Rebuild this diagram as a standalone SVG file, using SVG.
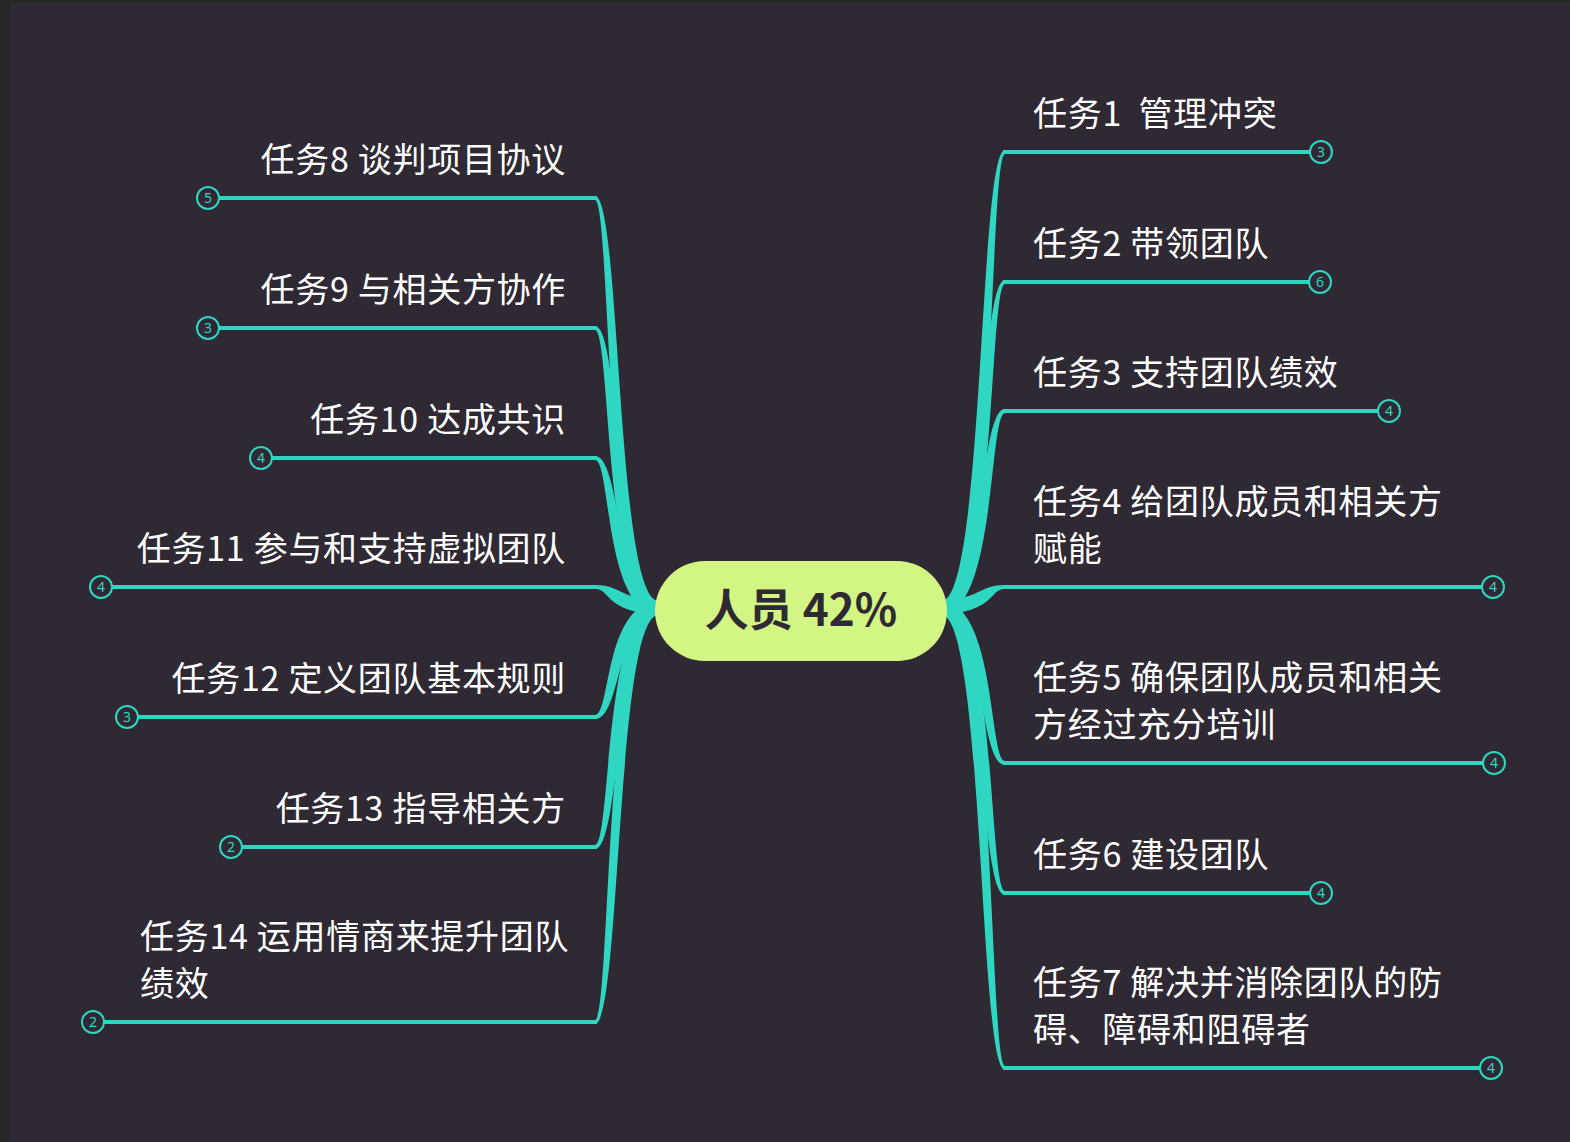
<svg xmlns="http://www.w3.org/2000/svg" width="1570" height="1142" viewBox="0 0 1570 1142">
<style>
.bg{fill:#2f2934}
.br{fill:#2fd6c2}
.hl{stroke:#2fd6c2;stroke-width:4;fill:none}
.lbl{font-family:"Noto Sans CJK SC","Noto Sans",sans-serif;font-size:34px;letter-spacing:0.7px;fill:#ffffff}
.lft{text-anchor:end}
.bd circle{fill:#2f2934;stroke:#2fd6c2;stroke-width:2}
.bd text{font-family:"Noto Sans","Liberation Sans",sans-serif;font-size:14px;fill:#2fd6c2;text-anchor:middle}
.root{fill:#d3f583}
.rootT{font-family:"Noto Sans CJK SC","Noto Sans",sans-serif;font-size:44px;font-weight:700;fill:#2f2934;text-anchor:middle}
</style>
<rect x="0" y="0" width="1570" height="1142" fill="#272727"/>
<rect class="bg" x="10" y="3" width="1560" height="1139"/>
<g id="connectors">
<path class="br" d="M 942 601 C 984 597 979 150 1005 150 L 1005 154 C 989 154 996 611 942 615 Z"/>
<path class="br" d="M 942 601 C 984 597 979 280 1005 280 L 1005 284 C 989 284 996 611 942 615 Z"/>
<path class="br" d="M 942 601 C 984 597 979 409 1005 409 L 1005 413 C 989 413 996 611 942 615 Z"/>
<path class="br" d="M 942 601 C 984 597 979 585 1005 585 L 1005 589 C 989 589 996 611 942 615 Z"/>
<path class="br" d="M 942 615 C 984 619 979 765 1005 765 L 1005 761 C 989 761 996 605 942 601 Z"/>
<path class="br" d="M 942 615 C 984 619 979 895 1005 895 L 1005 891 C 989 891 996 605 942 601 Z"/>
<path class="br" d="M 942 615 C 984 619 979 1070 1005 1070 L 1005 1066 C 989 1066 996 605 942 601 Z"/>
<path class="br" d="M 658 601 C 616 597 621 196 595 196 L 595 200 C 611 200 604 611 658 615 Z"/>
<path class="br" d="M 658 601 C 616 597 621 326 595 326 L 595 330 C 611 330 604 611 658 615 Z"/>
<path class="br" d="M 658 601 C 616 597 621 456 595 456 L 595 460 C 611 460 604 611 658 615 Z"/>
<path class="br" d="M 658 601 C 616 597 621 585 595 585 L 595 589 C 611 589 604 611 658 615 Z"/>
<path class="br" d="M 658 615 C 616 619 621 719 595 719 L 595 715 C 611 715 604 605 658 601 Z"/>
<path class="br" d="M 658 615 C 616 619 621 849 595 849 L 595 845 C 611 845 604 605 658 601 Z"/>
<path class="br" d="M 658 615 C 616 619 621 1024 595 1024 L 595 1020 C 611 1020 604 605 658 601 Z"/>
<line class="hl" x1="1003" y1="152" x2="1310" y2="152"/>
<line class="hl" x1="1003" y1="282" x2="1309" y2="282"/>
<line class="hl" x1="1003" y1="411" x2="1378" y2="411"/>
<line class="hl" x1="1003" y1="587" x2="1482" y2="587"/>
<line class="hl" x1="1003" y1="763" x2="1483" y2="763"/>
<line class="hl" x1="1003" y1="893" x2="1310" y2="893"/>
<line class="hl" x1="1003" y1="1068" x2="1480" y2="1068"/>
<line class="hl" x1="219" y1="198" x2="597" y2="198"/>
<line class="hl" x1="219" y1="328" x2="597" y2="328"/>
<line class="hl" x1="272" y1="458" x2="597" y2="458"/>
<line class="hl" x1="112" y1="587" x2="597" y2="587"/>
<line class="hl" x1="138" y1="717" x2="597" y2="717"/>
<line class="hl" x1="242" y1="847" x2="597" y2="847"/>
<line class="hl" x1="104" y1="1022" x2="597" y2="1022"/>
</g>
<g id="root">
<rect class="root" x="655" y="561" width="292" height="100" rx="50"/>
<text class="rootT" x="801" y="626">人员 42%</text>
</g>
<g id="t1"><text class="lbl" x="1033" y="126" xml:space="preserve">任务1  管理冲突</text><g class="bd"><circle cx="1321" cy="152" r="11"/><text x="1321" y="157">3</text></g></g>
<g id="t2"><text class="lbl" x="1033" y="256">任务2 带领团队</text><g class="bd"><circle cx="1320" cy="282" r="11"/><text x="1320" y="287">6</text></g></g>
<g id="t3"><text class="lbl" x="1033" y="385">任务3 支持团队绩效</text><g class="bd"><circle cx="1389" cy="411" r="11"/><text x="1389" y="416">4</text></g></g>
<g id="t4"><text class="lbl" x="1033" y="514">任务4 给团队成员和相关方</text><text class="lbl" x="1033" y="561">赋能</text><g class="bd"><circle cx="1493" cy="587" r="11"/><text x="1493" y="592">4</text></g></g>
<g id="t5"><text class="lbl" x="1033" y="690">任务5 确保团队成员和相关</text><text class="lbl" x="1033" y="737">方经过充分培训</text><g class="bd"><circle cx="1494" cy="763" r="11"/><text x="1494" y="768">4</text></g></g>
<g id="t6"><text class="lbl" x="1033" y="867">任务6 建设团队</text><g class="bd"><circle cx="1321" cy="893" r="11"/><text x="1321" y="898">4</text></g></g>
<g id="t7"><text class="lbl" x="1033" y="995">任务7 解决并消除团队的防</text><text class="lbl" x="1033" y="1042">碍、障碍和阻碍者</text><g class="bd"><circle cx="1491" cy="1068" r="11"/><text x="1491" y="1073">4</text></g></g>
<g id="t8"><text class="lbl lft" x="566" y="172">任务8 谈判项目协议</text><g class="bd"><circle cx="208" cy="198" r="11"/><text x="208" y="203">5</text></g></g>
<g id="t9"><text class="lbl lft" x="566" y="302">任务9 与相关方协作</text><g class="bd"><circle cx="208" cy="328" r="11"/><text x="208" y="333">3</text></g></g>
<g id="t10"><text class="lbl lft" x="566" y="432">任务10 达成共识</text><g class="bd"><circle cx="261" cy="458" r="11"/><text x="261" y="463">4</text></g></g>
<g id="t11"><text class="lbl lft" x="566" y="561">任务11 参与和支持虚拟团队</text><g class="bd"><circle cx="101" cy="587" r="11"/><text x="101" y="592">4</text></g></g>
<g id="t12"><text class="lbl lft" x="566" y="691">任务12 定义团队基本规则</text><g class="bd"><circle cx="127" cy="717" r="11"/><text x="127" y="722">3</text></g></g>
<g id="t13"><text class="lbl lft" x="566" y="821">任务13 指导相关方</text><g class="bd"><circle cx="231" cy="847" r="11"/><text x="231" y="852">2</text></g></g>
<g id="t14"><text class="lbl" x="140" y="949">任务14 运用情商来提升团队</text><text class="lbl" x="140" y="996">绩效</text><g class="bd"><circle cx="93" cy="1022" r="11"/><text x="93" y="1027">2</text></g></g>
</svg>
